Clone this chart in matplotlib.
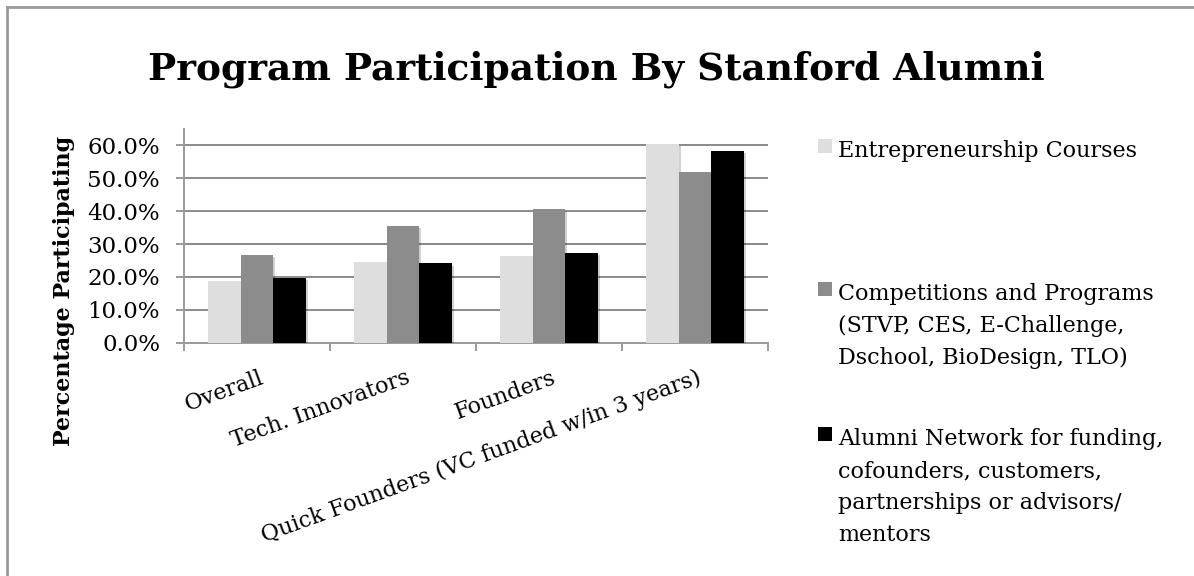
import matplotlib
matplotlib.use('Agg')
import matplotlib.pyplot as plt
import numpy as np
from matplotlib.patches import Rectangle
from matplotlib.lines import Line2D
from matplotlib.transforms import ScaledTranslation
import matplotlib.patheffects as pe

# data
categories = ["Overall", "Tech. Innovators", "Founders", "Quick Founders (VC funded w/in 3 years)"]
series_names = [
    "Entrepreneurship Courses",
    "Competitions and Programs\n(STVP, CES, E-Challenge,\nDschool, BioDesign, TLO)",
    "Alumni Network for funding,\ncofounders, customers,\npartnerships or advisors/\nmentors",
]
courses = [0.187, 0.244, 0.264, 0.605]
competitions = [0.268, 0.354, 0.407, 0.520]
alumni = [0.197, 0.241, 0.272, 0.582]
yticks = [0.0, 0.1, 0.2, 0.3, 0.4, 0.5, 0.6]

colors = ["#dedede", "#8c8c8c", "#000000"]
plt.rcParams["font.family"] = "DejaVu Serif"

W, H = 1194, 576
fig = plt.figure(figsize=(W / 100, H / 100), dpi=100)
px = lambda v: v * 72 / 100  # pixels -> points

ax = fig.add_axes([184 / W, 1 - 342.7 / H, 584 / W, (342.7 - 129) / H])

x = np.arange(len(categories))
bw = 0.222
shadow = [pe.SimplePatchShadow(offset=(1.5, -1.5), shadow_rgbFace="#000000", alpha=0.18), pe.Normal()]
for i, vals in enumerate([courses, competitions, alumni]):
    bars = ax.bar(x + (i - 1) * bw, vals, width=bw, color=colors[i], zorder=3)
    for b in bars:
        b.set_path_effects(shadow)

ax.set_xlim(-0.5, len(categories) - 0.5)
ax.set_ylim(0, 0.65)
ax.set_yticks(yticks)
ax.set_yticklabels(["%.1f%%" % (v * 100) for v in yticks], fontsize=16.5)
ax.yaxis.grid(True, color="#8a8a8a", linewidth=1.4, zorder=0)
ax.set_axisbelow(True)
# labels sit a little below their gridline in the original
nudge = ScaledTranslation(0, -4 / 100, fig.dpi_scale_trans)
for lab in ax.get_yticklabels():
    lab.set_transform(lab.get_transform() + nudge)

for s in ["top", "right"]:
    ax.spines[s].set_visible(False)
for s in ["left", "bottom"]:
    ax.spines[s].set_color("#9a9a9a")
    ax.spines[s].set_linewidth(1.4)
ax.tick_params(axis="y", length=px(8.5), width=1.4, color="#9a9a9a", pad=px(15.5))

# ticks at category boundaries, rotated names under each group
ax.set_xticks(np.arange(len(categories) + 1) - 0.5)
ax.set_xticklabels([])
ax.tick_params(axis="x", length=px(8), width=1.4, color="#9a9a9a")
for xi, name in zip(x, categories):
    ax.annotate(name, xy=(xi, 0), xycoords=("data", "axes fraction"),
                xytext=(px(2), px(-24)), textcoords="offset points",
                rotation=20, rotation_mode="anchor", ha="right", va="top",
                fontsize=16)

fig.text(64 / W, 1 - 291 / H, "Percentage Participating", rotation=90,
         ha="center", va="center", fontsize=16, fontweight="bold")

fig.text(0.5 * (148 + 1045) / W, 1 - 80 / H, "Program Participation By Stanford Alumni",
         ha="center", va="baseline", fontsize=27, fontweight="bold")

# legend, laid out line by line like the original
leg_base = [157, 300, 445]
for name, col, yb in zip(series_names, colors, leg_base):
    fig.add_artist(Rectangle((818 / W, 1 - (yb - 4) / H), 14 / W, 14 / H,
                             transform=fig.transFigure, facecolor=col, edgecolor="none"))
    for k, line in enumerate(name.split("\n")):
        fig.text(838 / W, 1 - (yb + 32 * k) / H, line, ha="left", va="baseline", fontsize=16)

# outer chart border (only left and top edges visible)
fig.add_artist(Line2D([7 / W, 7 / W], [0, 1 - 7 / H], transform=fig.transFigure, color="#9a9a9a", lw=2))
fig.add_artist(Line2D([7 / W, 1], [1 - 7 / H, 1 - 7 / H], transform=fig.transFigure, color="#9a9a9a", lw=2))

fig.savefig("out.png", dpi=100)
